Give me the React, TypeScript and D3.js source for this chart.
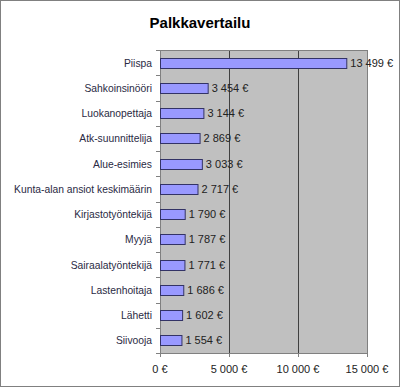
import React from 'react';
import * as d3 from 'd3';

const categories = [
  'Piispa',
  'Sahkoinsinööri',
  'Luokanopettaja',
  'Atk-suunnittelija',
  'Alue-esimies',
  'Kunta-alan ansiot keskimäärin',
  'Kirjastotyöntekijä',
  'Myyjä',
  'Sairaalatyöntekijä',
  'Lastenhoitaja',
  'Lähetti',
  'Siivooja',
];
const salaries = [13499, 3454, 3144, 2869, 3033, 2717, 1790, 1787, 1771, 1686, 1602, 1554];
const xTicks = [0, 5000, 10000, 15000];

const fmt = (v: number) => d3.format(',')(v).replace(/,/g, ' ') + ' €';

const App = () => {
  const width = 400;
  const height = 387;
  const left = 160;
  const right = 367;
  const top = 50;
  const bottom = 353;

  const x = d3.scaleLinear().domain([0, 15000]).range([left, right]);
  const y = d3.scaleBand().domain(categories).range([top, bottom]);
  const barH = 10;
  const font = 'Liberation Sans, Arial, sans-serif';

  return (
    <svg width={width} height={height} style={{ position: 'absolute', left: 0, top: 0 }}>
      <rect x={0.5} y={0.5} width={width - 1} height={height - 1} fill="#fff" stroke="#808080" />
      <text x={200} y={28} textAnchor="middle" fontFamily={font} fontSize={15} fontWeight="bold" fill="#000">
        Palkkavertailu
      </text>
      <rect x={left} y={top} width={right - left} height={bottom - top} fill="#c0c0c0" />
      {xTicks.slice(1, -1).map((t) => (
        <line key={t} x1={Math.round(x(t)) + 0.5} x2={Math.round(x(t)) + 0.5} y1={top} y2={bottom} stroke="#404040" />
      ))}
      <line x1={right + 0.5} x2={right + 0.5} y1={top} y2={bottom} stroke="#808080" />
      <line x1={left} x2={right + 1} y1={top + 0.5} y2={top + 0.5} stroke="#808080" />
      <line x1={left} x2={right + 1} y1={bottom + 0.5} y2={bottom + 0.5} stroke="#808080" />
      <line x1={left + 0.5} x2={left + 0.5} y1={top} y2={bottom + 1} stroke="#808080" />
      {d3.range(categories.length + 1).map((i) => {
        const yy = Math.round(top + i * y.step()) + 0.5;
        return <line key={i} x1={left - 4} x2={left} y1={yy} y2={yy} stroke="#808080" />;
      })}
      {xTicks.map((t) => (
        <line key={t} x1={Math.round(x(t)) + 0.5} x2={Math.round(x(t)) + 0.5} y1={bottom} y2={bottom + 4} stroke="#808080" />
      ))}
      {categories.map((c, i) => {
        const cy = (y(c) as number) + y.bandwidth() / 2;
        return (
          <g key={c}>
            <rect
              x={left + 0.5}
              y={Math.round(cy - barH / 2) + 0.5}
              width={x(salaries[i]) - left}
              height={barH}
              fill="#9999ff"
              stroke="#333366"
            />
            <text x={left - 8} y={cy + 4} textAnchor="end" fontFamily={font} fontSize={10.3} fill="#2a2a44">
              {c}
            </text>
            <text x={x(salaries[i]) + 4} y={cy + 4} fontFamily={font} fontSize={11} fill="#222">
              {fmt(salaries[i])}
            </text>
          </g>
        );
      })}
      {xTicks.map((t) => (
        <text key={t} x={x(t)} y={373} textAnchor="middle" fontFamily={font} fontSize={11} fill="#222">
          {fmt(t)}
        </text>
      ))}
    </svg>
  );
};

export default App;
